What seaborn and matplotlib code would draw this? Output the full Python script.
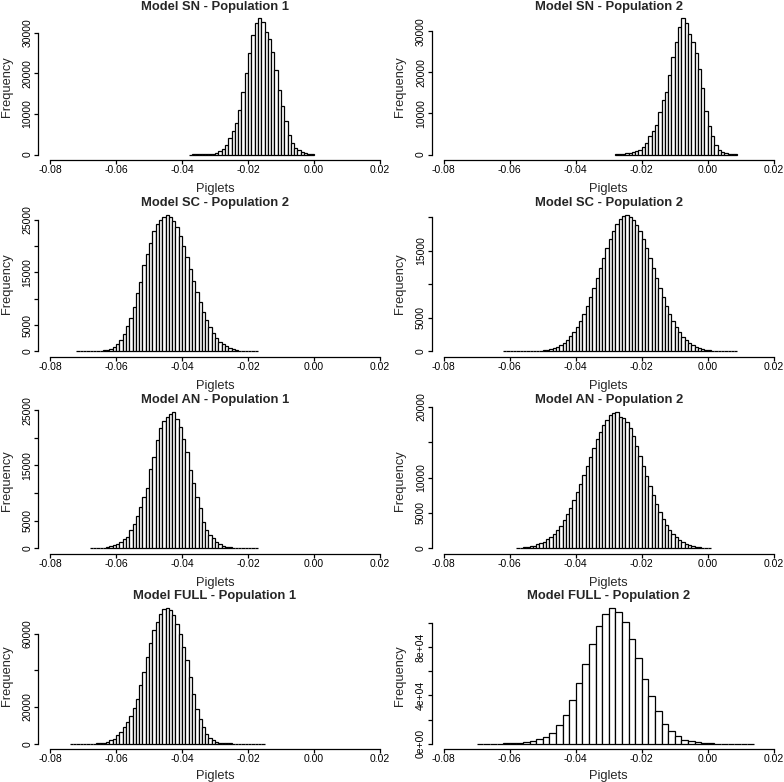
import matplotlib
matplotlib.use("Agg")
import matplotlib.pyplot as plt
import numpy as np
import pandas as pd
import seaborn as sns

# bin counts (left bin edge + width per panel)
sn_pop1_start = -0.038
sn_pop1_counts = [10, 15, 25, 40, 60, 90, 130, 200, 410, 820, 1390, 2450, 4085, 5720,
                  7760, 11000, 15500, 20000, 25080, 29400, 32270, 33500, 32680, 30230,
                  28350, 25330, 20830, 15930, 11850, 8170, 4900, 2860, 1630, 1060, 570,
                  330, 160, 80]

sn_pop2_start = -0.028
sn_pop2_counts = [40, 80, 160, 320, 480, 650, 890, 1210, 1780, 2820, 4440, 5650, 7260,
                  10250, 13150, 15330, 19370, 23650, 27440, 31070, 33100, 32050, 29300,
                  27440, 24780, 20740, 16140, 10490, 6860, 4600, 2420, 1210, 650, 320,
                  160, 80, 40]

sc_pop2a_start = -0.072
sc_pop2a_counts = [5, 8, 12, 20, 30, 50, 80, 130, 210, 320, 500, 820, 1400, 2200, 3300,
                   4750, 6330, 8350, 11070, 13160, 16460, 18400, 20600, 22800, 24200,
                   25000, 25500, 25800, 25540, 24770, 23530, 21900, 20000, 17850, 15660,
                   13420, 11270, 9290, 7510, 5930, 4590, 3480, 2610, 1880, 1340, 950,
                   650, 440, 280, 180, 110, 70, 40, 25, 15]

sc_pop2b_start = -0.062
sc_pop2b_counts = [5, 5, 8, 10, 15, 20, 25, 35, 45, 60, 90, 130, 190, 260, 380, 530, 730,
                   980, 1300, 1700, 2230, 2880, 3650, 4540, 5590, 6770, 8070, 9470, 10930,
                   12450, 13950, 15410, 16760, 17940, 18930, 19660, 20110, 20270, 20050,
                   19600, 18900, 17900, 16700, 15350, 13900, 12400, 10900, 9450, 8050,
                   6750, 5580, 4530, 3640, 2870, 2220, 1690, 1290, 940, 700, 500, 360,
                   240, 170, 115, 75, 50, 35, 25, 15, 10, 5]

an_pop1_start = -0.068
an_pop1_counts = [10, 20, 40, 80, 140, 250, 400, 600, 850, 1200, 1630, 2100, 3300, 4340,
                  5840, 7400, 9340, 10840, 14280, 16570, 19700, 21870, 23070, 23800, 24400,
                  24640, 23400, 22000, 19880, 17470, 14160, 11870, 9340, 7230, 4820, 3310,
                  2410, 1810, 1200, 780, 480, 300, 200, 130, 90, 60, 40, 30, 20, 15, 10]

an_pop2_start = -0.058
an_pop2_counts = [80, 110, 150, 210, 290, 400, 560, 730, 960, 1270, 1640, 2080, 2600, 3230,
                  3960, 4810, 5730, 6790, 7910, 9120, 10370, 11680, 12970, 14220, 15410,
                  16490, 17430, 18200, 18780, 19120, 19240, 18600, 18400, 17930, 16970,
                  15830, 14530, 13120, 11680, 10220, 8810, 7480, 6250, 5140, 4160, 3310,
                  2600, 2020, 1540, 1150, 850, 620, 440, 310, 210, 150, 100, 65, 40]

full_pop1_start = -0.074
full_pop1_counts = [1, 2, 3, 5, 8, 15, 40, 110, 190, 320, 550, 910, 1820, 2730, 4550, 6370,
                    9090, 11820, 15100, 19460, 24560, 32200, 39100, 47300, 55100, 61850,
                    66400, 70940, 73670, 74200, 72760, 70030, 65480, 60030, 52750, 45480,
                    36380, 27290, 19100, 13640, 9090, 5460, 3090, 1820, 1090, 550, 360,
                    220, 140, 90, 60, 40, 25, 15, 10, 6, 4, 3, 2]

full_pop2_start = -0.070
full_pop2_counts = [20, 40, 80, 150, 300, 550, 830, 1380, 2200, 3590, 5520, 8830, 15170,
                    24000, 35860, 50210, 66210, 82760, 97380, 107590, 112550, 108970,
                    100690, 86900, 70900, 53240, 39170, 26760, 16550, 10480, 6070, 3310,
                    1930, 1100, 550, 300, 150, 80, 40, 20, 10, 5]

titles = ["Model SN - Population 1", "Model SN - Population 2",
          "Model SC - Population 2", "Model SC - Population 2",
          "Model AN - Population 1", "Model AN - Population 2",
          "Model FULL - Population 1", "Model FULL - Population 2"]

x_ticks = [-0.08, -0.06, -0.04, -0.02, 0.00, 0.02]
x_tick_labels = ["-0.08", "-0.06", "-0.04", "-0.02", "0.00", "0.02"]

y_ticks_30k = [0, 10000, 20000, 30000]
y_labels_30k = ["0", "10000", "20000", "30000"]
y_ticks_25k = [0, 5000, 10000, 15000, 20000, 25000]
y_labels_25k = ["0", "5000", "", "15000", "", "25000"]
y_ticks_20k = [0, 5000, 10000, 15000, 20000]
y_labels_sc2 = ["0", "5000", "", "15000", ""]
y_labels_an2 = ["0", "5000", "10000", "", "20000"]
y_ticks_60k = [0, 20000, 40000, 60000]
y_labels_60k = ["0", "20000", "", "60000"]
y_ticks_1e5 = [0, 20000, 40000, 60000, 80000, 100000]
y_labels_1e5 = ["0e+00", "", "4e+04", "", "8e+04", ""]


def draw_panel(ax, title, start, width, counts, y_ticks, y_labels, x_labelpad):
    counts = np.asarray(counts, dtype=float)
    edges = np.round(start + width * np.arange(len(counts) + 1), 4)
    frame = pd.DataFrame({"piglets": (edges[:-1] + edges[1:]) / 2, "frequency": counts})
    sns.histplot(data=frame, x="piglets", weights="frequency", bins=edges.tolist(),
                 color="white", edgecolor="black", linewidth=0.9, alpha=1, ax=ax)

    top = counts.max()
    ax.set_xlim(-0.0835, 0.0235)
    ax.set_ylim(-0.04 * top, 1.04 * top)

    for side in ("top", "right"):
        ax.spines[side].set_visible(False)
    for side in ("left", "bottom"):
        ax.spines[side].set_linewidth(0.9)
        ax.spines[side].set_color("black")
    ax.spines["bottom"].set_bounds(x_ticks[0], x_ticks[-1])
    ax.spines["left"].set_bounds(y_ticks[0], y_ticks[-1])

    ax.set_xticks(x_ticks)
    ax.set_xticklabels(x_tick_labels)
    ax.set_yticks(y_ticks)
    ax.set_yticklabels(y_labels, rotation=90, va="center")
    ax.tick_params(axis="both", labelsize=7.5, length=3, width=0.9, color="black",
                   labelcolor="black")
    ax.tick_params(axis="x", pad=0.5)
    ax.tick_params(axis="y", pad=1.5)

    ax.set_title(title, fontsize=9.4, fontweight="bold", pad=2.5)
    ax.set_xlabel("Piglets", fontsize=9.3, labelpad=x_labelpad)
    ax.set_ylabel("Frequency", fontsize=9.3, labelpad=7)
    ax.grid(False)


def main():
    sns.set_theme(style="ticks")
    plt.rcParams["font.family"] = ["Liberation Sans", "DejaVu Sans"]

    fig = plt.figure(figsize=(7.84, 7.82), dpi=100)
    fig.patch.set_facecolor("white")

    panels = [
        (sn_pop1_start, 0.001, sn_pop1_counts, y_ticks_30k, y_labels_30k),
        (sn_pop2_start, 0.001, sn_pop2_counts, y_ticks_30k, y_labels_30k),
        (sc_pop2a_start, 0.001, sc_pop2a_counts, y_ticks_25k, y_labels_25k),
        (sc_pop2b_start, 0.001, sc_pop2b_counts, y_ticks_20k, y_labels_sc2),
        (an_pop1_start, 0.001, an_pop1_counts, y_ticks_25k, y_labels_25k),
        (an_pop2_start, 0.001, an_pop2_counts, y_ticks_20k, y_labels_an2),
        (full_pop1_start, 0.001, full_pop1_counts, y_ticks_60k, y_labels_60k),
        (full_pop2_start, 0.002, full_pop2_counts, y_ticks_1e5, y_labels_1e5),
    ]

    lefts = [0.0491, 0.5513]
    bottoms = [0.7954, 0.5436, 0.2918, 0.0420]
    for i, (title, spec) in enumerate(zip(titles, panels)):
        row, col = divmod(i, 2)
        ax = fig.add_axes([lefts[col], bottoms[row], 0.4503, 0.188])
        ax.set_facecolor("white")
        draw_panel(ax, title, *spec, x_labelpad=4 if row == 3 else 6)

    fig.savefig("out.png", dpi=100, facecolor="white")
    plt.close(fig)


if __name__ == "__main__":
    main()
